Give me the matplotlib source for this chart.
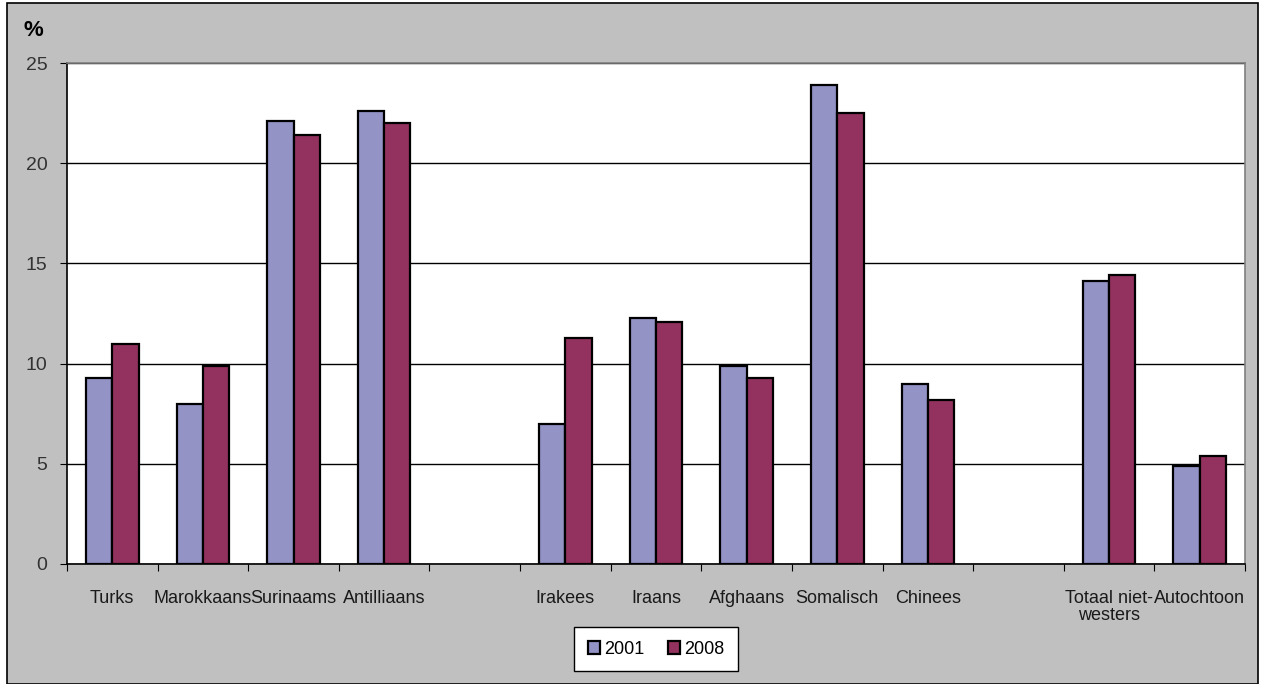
import numpy as np
import matplotlib
matplotlib.use("Agg")
from matplotlib import pyplot as plt
from matplotlib.patches import Rectangle

plt.rcParams['font.family'] = ['Liberation Sans', 'DejaVu Sans']

# data (empty strings are the gaps between groups)
categories = ['Turks', 'Marokkaans', 'Surinaams', 'Antilliaans', '',
              'Irakees', 'Iraans', 'Afghaans', 'Somalisch', 'Chinees', '',
              'Totaal niet-\nwesters', 'Autochtoon']
v2001 = [9.3, 8.0, 22.1, 22.6, np.nan, 7.0, 12.3, 9.9, 23.9, 9.0, np.nan, 14.1, 4.9]
v2008 = [11.0, 9.9, 21.4, 22.0, np.nan, 11.3, 12.1, 9.3, 22.5, 8.2, np.nan, 14.4, 5.4]
series = ['2001', '2008']
colors = ['#9393C6', '#93325E']

W, H = 1262, 684
fig = plt.figure(figsize=(W / 100, H / 100), dpi=100)
fig.patch.set_facecolor('white')
# grey chart area with black outline, behind the axes
bg = Rectangle((7 / W, 0), 1251 / W, (H - 3) / H, transform=fig.transFigure,
               facecolor='#C0C0C0', edgecolor='black', linewidth=1.2, zorder=-10)
fig.add_artist(bg)

ax = fig.add_axes([67 / W, 1 - 564 / H, (1245 - 67) / W, (564 - 63) / H])
ax.set_facecolor('white')

x = np.arange(len(categories))
bw = 0.29
ax.bar(x - bw / 2, v2001, bw, color=colors[0], edgecolor='black', linewidth=1.6, label=series[0], zorder=3)
ax.bar(x + bw / 2, v2008, bw, color=colors[1], edgecolor='black', linewidth=1.6, label=series[1], zorder=3)

ax.set_xlim(-0.5, len(categories) - 0.5)
ax.set_ylim(0, 25)
ax.set_yticks([0, 5, 10, 15, 20, 25])
ax.yaxis.grid(True, color='black', linewidth=1.0, zorder=1)
ax.set_axisbelow(True)
for s in ax.spines.values():
    s.set_color('#808080')
    s.set_linewidth(1.2)
ax.spines['left'].set_color('black')
ax.spines['bottom'].set_color('black')

# ticks at the boundaries, labels centred in the slots
ax.set_xticks(np.arange(len(categories) + 1) - 0.5)
ax.set_xticklabels([])
ax.set_xticks(x, minor=True)
ax.set_xticklabels(categories, minor=True, fontsize=13, linespacing=0.95,
                   family=['Liberation Sans Narrow', 'Liberation Sans'], color='#1a1a1a')
ax.tick_params(axis='x', which='major', direction='out', length=5, color='black')
ax.tick_params(axis='x', which='minor', length=0, pad=19)
ax.tick_params(axis='y', direction='out', length=5, labelsize=14, pad=9, color='black')
for lab in ax.get_yticklabels():
    lab.set_color('#333333')

fig.text(24 / W, 1 - 31 / H, '%', fontsize=16, fontweight='bold', va='center', ha='left')

leg = fig.legend(loc='center', bbox_to_anchor=(656 / W, 1 - 649 / H), ncol=2, fontsize=13,
                 frameon=True, fancybox=False, edgecolor='black', facecolor='white', framealpha=1,
                 handlelength=0.7, handleheight=0.7, handletextpad=0.2, columnspacing=1.3,
                 borderpad=0.75)
leg.get_frame().set_linewidth(1.0)

fig.savefig('out.png', dpi=100)
